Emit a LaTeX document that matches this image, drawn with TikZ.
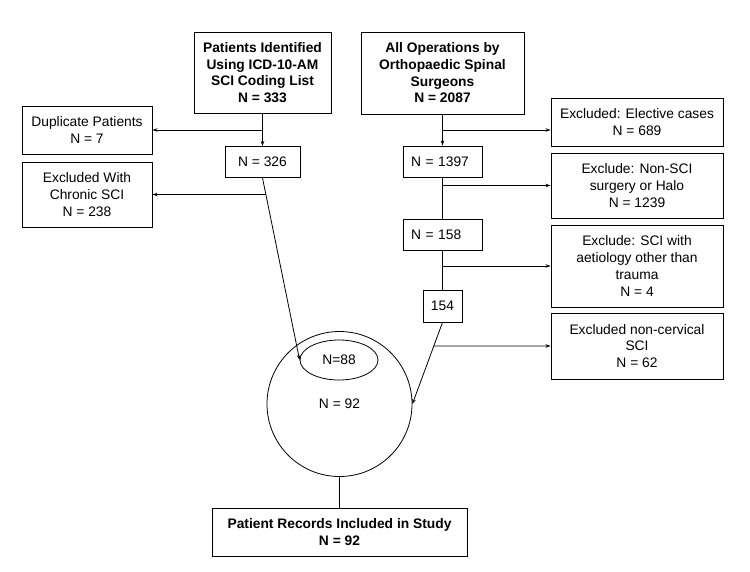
\documentclass[tikz,border=0pt]{standalone}
\usepackage{fontspec}
\setmainfont{Liberation Sans}
\usetikzlibrary{arrows.meta,shapes.geometric}
\tikzset{
  box/.style={draw, line width=0.9pt, inner sep=0pt, align=center},
  bold/.style={font=\fontsize{13.8}{16.7}\selectfont\bfseries},
  leftbox/.style={minimum width=79, minimum height=31, text width=63, inner xsep=8pt, align=left},
  sidebox/.style={minimum width=172}
}
\begin{document}
\begin{tikzpicture}[x=1pt, y=-1pt, line width=0.8pt,
    font=\fontsize{13.8}{16.7}\selectfont, >={Stealth[length=5pt,width=3.5pt]}]
        \useasboundingbox (0,0) rectangle (750,571);

        % left column
        \node[box, bold, minimum width=137, minimum height=81] (ident) at (262.5,72.5) {Patients Identified\\Using ICD-10-AM\\SCI Coding List\\N = 333};
        \node[box, minimum width=130, minimum height=48] (dup) at (87,130) {Duplicate Patients\\N = 7};
        \node[box, minimum width=130, minimum height=65] (chronic) at (87,194.5) {Excluded With\\Chronic SCI\\N = 238};
        \node[box, minimum width=75, minimum height=31] (n326) at (262.5,162) {N = 326};

        % right column
        \node[box, bold, minimum width=163, minimum height=82] (ops) at (442.5,73) {All Operations by\\Orthopaedic Spinal\\Surgeons\\N = 2087};
        \node[box, sidebox, minimum height=48] (elective) at (637,122) {Excluded: Elective cases\\N = 689};
        \node[box, leftbox] (n1397) at (442.5,161.5) {N = 1397};
        \node[box, sidebox, minimum height=65] (nonsci) at (637,185.5) {Exclude: Non-SCI\\surgery or Halo\\N = 1239};
        \node[box, leftbox] (n158) at (442.5,234.5) {N = 158};
        \node[box, sidebox, minimum height=82] (aetiol) at (637,266) {Exclude: SCI with\\aetiology other than\\trauma\\N = 4};
        \node[box, minimum width=39, minimum height=32] (n154) at (442.5,306) {154};
        \node[box, sidebox, minimum height=66] (noncerv) at (637,346) {Excluded non-cervical\\SCI\\N = 62};

        % merged set
        \node[circle, draw, inner sep=0pt, minimum size=145] (outer) at (339.5,404) {N = 92};
        \node[ellipse, draw, inner sep=0pt, minimum width=78, minimum height=40] (inner) at (339,360) {N=88};
        \node[box, bold, minimum width=255, minimum height=48] (final) at (339.5,532) {Patient Records Included in Study\\N = 92};

        \draw[->] (ident.south) -- (n326.north);
        \draw[->] (ident.south |- dup.east) -- (dup.east);
        \draw[->] (n326.south) -- (inner.west);
        \coordinate (c1) at (intersection of n326.south--inner.west and chronic.east--chronic.west);
        \draw[->] (c1) -- (chronic.east);

        \draw[->] (ops.south) -- (n1397.north);
        \draw[->] (ops.south |- dup.east) -- (elective.west |- dup.east);
        \draw (n1397.south) -- (n158.north);
        \draw[->] (n1397.south |- nonsci.west) -- (nonsci.west);
        \draw (n158.south) -- (n154.north);
        \draw[->] (n158.south |- aetiol.west) -- (aetiol.west);
        \draw[->] (n154.south) -- (outer.east);
        \coordinate (c2) at (intersection of n154.south--outer.east and noncerv.west--noncerv.east);
        \draw[->] (c2) -- (noncerv.west);

        \draw (outer.south) -- (final.north);
    \end{tikzpicture}
\end{document}
